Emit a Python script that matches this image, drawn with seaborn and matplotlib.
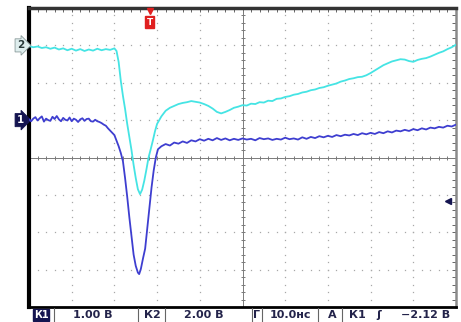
import numpy as np
import pandas as pd
import matplotlib
matplotlib.use("Agg")
import matplotlib.pyplot as plt
from matplotlib.lines import Line2D
import matplotlib.transforms as mtransforms
import seaborn as sns

# ---- data (in screen divisions) ----
ch2_x = [0.0, 0.1, 0.2, 0.3, 0.4, 0.5, 0.6, 0.7, 0.8, 0.9, 1.0, 1.1, 1.2, 1.3, 1.4, 1.5,
         1.6, 1.7, 1.8, 1.9, 2.0, 2.05, 2.1, 2.15, 2.2, 2.25, 2.3, 2.35, 2.4, 2.45, 2.5,
         2.55, 2.6, 2.65, 2.7, 2.75, 2.8, 2.85, 2.9, 2.95, 3.0, 3.1, 3.2, 3.3, 3.4, 3.5,
         3.6, 3.7, 3.8, 3.9, 4.0, 4.1, 4.2, 4.3, 4.4, 4.5, 4.6, 4.7, 4.8, 4.9, 5.0, 5.1,
         5.2, 5.3, 5.4, 5.5, 5.6, 5.7, 5.8, 5.9, 6.0, 6.1, 6.2, 6.3, 6.4, 6.5, 6.6, 6.7,
         6.8, 6.9, 7.0, 7.1, 7.2, 7.3, 7.4, 7.5, 7.6, 7.7, 7.8, 7.9, 8.0, 8.1, 8.2, 8.3,
         8.4, 8.5, 8.6, 8.7, 8.8, 8.9, 9.0, 9.1, 9.2, 9.3, 9.4, 9.5, 9.6, 9.7, 9.8, 9.9, 10.0]
ch2_y = [2.98, 2.95, 2.97, 2.93, 2.95, 2.91, 2.94, 2.89, 2.92, 2.87, 2.91, 2.86, 2.90, 2.85, 2.89, 2.86,
         2.91, 2.87, 2.90, 2.88, 2.92, 2.85, 2.55, 2.05, 1.65, 1.30, 0.90, 0.55, 0.20, -0.20, -0.55,
         -0.85, -0.98, -0.86, -0.62, -0.32, 0.00, 0.22, 0.45, 0.70, 0.90, 1.10, 1.25, 1.33, 1.38, 1.43,
         1.46, 1.48, 1.51, 1.49, 1.47, 1.43, 1.38, 1.31, 1.22, 1.18, 1.22, 1.27, 1.33, 1.36, 1.40, 1.39,
         1.44, 1.43, 1.48, 1.47, 1.52, 1.51, 1.57, 1.58, 1.62, 1.64, 1.68, 1.70, 1.74, 1.76, 1.80, 1.82,
         1.86, 1.88, 1.92, 1.95, 1.98, 2.03, 2.06, 2.10, 2.12, 2.15, 2.16, 2.20, 2.26, 2.33, 2.40, 2.47,
         2.52, 2.57, 2.60, 2.63, 2.62, 2.58, 2.56, 2.61, 2.64, 2.66, 2.70, 2.75, 2.80, 2.84, 2.90, 2.95, 3.02]

ch1_x = [0.0, 0.05, 0.1, 0.15, 0.2, 0.25, 0.3, 0.35, 0.4, 0.45, 0.5, 0.55, 0.6, 0.65, 0.7, 0.75,
         0.8, 0.85, 0.9, 0.95, 1.0, 1.05, 1.1, 1.15, 1.2, 1.25, 1.3, 1.35, 1.4, 1.45, 1.5, 1.55,
         1.6, 1.65, 1.7, 1.75, 1.8, 1.85, 1.9, 1.95, 2.0, 2.05, 2.1, 2.15, 2.2, 2.25, 2.3, 2.35,
         2.4, 2.45, 2.5, 2.55, 2.58, 2.62, 2.67, 2.72, 2.77, 2.82, 2.87, 2.92, 2.97, 3.02, 3.1,
         3.2, 3.3, 3.4, 3.5, 3.6, 3.7, 3.8, 3.9, 4.0, 4.1, 4.2, 4.3, 4.4, 4.5, 4.6, 4.7, 4.8, 4.9,
         5.0, 5.1, 5.2, 5.3, 5.4, 5.5, 5.6, 5.7, 5.8, 5.9, 6.0, 6.1, 6.2, 6.3, 6.4, 6.5, 6.6, 6.7,
         6.8, 6.9, 7.0, 7.1, 7.2, 7.3, 7.4, 7.5, 7.6, 7.7, 7.8, 7.9, 8.0, 8.1, 8.2, 8.3, 8.4, 8.5,
         8.6, 8.7, 8.8, 8.9, 9.0, 9.1, 9.2, 9.3, 9.4, 9.5, 9.6, 9.7, 9.8, 9.9, 10.0]
ch1_y = [1.02, 0.97, 1.04, 1.08, 0.99, 1.05, 1.10, 0.96, 1.04, 1.00, 0.98, 1.09, 1.03, 1.11, 1.02, 0.97,
         1.06, 1.01, 0.99, 1.07, 0.97, 1.04, 1.01, 0.95, 1.02, 1.05, 0.98, 1.03, 1.04, 0.97, 0.96, 1.01,
         0.97, 0.95, 0.92, 0.88, 0.85, 0.78, 0.72, 0.66, 0.60, 0.45, 0.30, 0.12, -0.10, -0.55, -1.05, -1.60,
         -2.10, -2.60, -2.90, -3.08, -3.12, -2.98, -2.70, -2.44, -1.90, -1.35, -0.80, -0.35, 0.00, 0.22, 0.30,
         0.36, 0.32, 0.40, 0.37, 0.43, 0.39, 0.46, 0.43, 0.49, 0.45, 0.50, 0.46, 0.52, 0.47, 0.51, 0.46, 0.50, 0.47,
         0.51, 0.48, 0.50, 0.46, 0.52, 0.49, 0.51, 0.47, 0.50, 0.48, 0.53, 0.49, 0.51, 0.48, 0.54, 0.50, 0.55, 0.52,
         0.57, 0.54, 0.58, 0.55, 0.60, 0.57, 0.61, 0.59, 0.63, 0.60, 0.65, 0.62, 0.66, 0.63, 0.68, 0.65, 0.70, 0.67,
         0.72, 0.70, 0.74, 0.71, 0.76, 0.73, 0.78, 0.75, 0.80, 0.78, 0.82, 0.80, 0.85, 0.83, 0.88]

ch1_ref = 1.0
ch2_ref = 3.0
trig_x = 2.83
trig_level = -1.16

status_labels = ["К1", "1.00 В", "К2", "2.00 В", "Г", "10.0нс", "А", "К1", "ʃ", "−2.12 В"]

# ---- figure ----
sns.set_style("white")
plt.rcParams['font.family'] = ['DejaVu Sans']
W, H = 461, 322
fig = plt.figure(figsize=(W / 100, H / 100), dpi=100)
fig.patch.set_facecolor("white")
ax = fig.add_axes([29 / W, 15 / H, 427 / W, 299 / H])
ax.set_xlim(0, 10)
ax.set_ylim(-4, 4)

# grid dots
dot_col = "#a8a8a8"
for gx in [1, 2, 3, 4, 6, 7, 8, 9]:
    yy = np.arange(-4, 4.001, 0.2)
    ax.plot(np.full_like(yy, gx), yy, ls="none", marker="s", ms=0.9, color=dot_col, mew=0)
for gy in [-3, -2, -1, 1, 2, 3]:
    xx = np.arange(0, 10.001, 0.2)
    ax.plot(xx, np.full_like(xx, gy), ls="none", marker="s", ms=0.9, color=dot_col, mew=0)

# center crosshair with ticks
cc = "#7a7a7a"
ax.axhline(0, color=cc, lw=0.7, zorder=1)
ax.axvline(5, color=cc, lw=0.7, zorder=1)
xx = np.arange(0, 10.001, 0.2)
ax.plot(xx, np.zeros_like(xx), ls="none", marker="|", ms=3.5, mew=0.7, color=cc)
yy = np.arange(-4, 4.001, 0.2)
ax.plot(np.full_like(yy, 5.0), yy, ls="none", marker="_", ms=3.5, mew=0.7, color=cc)

# traces
sns.lineplot(x=ch2_x, y=ch2_y, ax=ax, color="#45e4e4", lw=1.3, estimator=None, sort=False, zorder=3)
sns.lineplot(x=ch1_x, y=ch1_y, ax=ax, color="#3e3ed0", lw=1.3, estimator=None, sort=False, zorder=4)

# edge ticks
ax.set_xticks(np.arange(0, 10.001, 0.2))
ax.set_yticks(np.arange(-4, 4.001, 0.2))
ax.tick_params(direction="in", length=3, width=0.7, color="#666666",
               top=True, right=True, labelbottom=False, labelleft=False)
ax.set_xlabel("")
ax.set_ylabel("")

for side, lw, col in [("left", 3.0, "black"), ("top", 2.5, "#333333"),
                      ("bottom", 2.0, "black"), ("right", 1.8, "#8a8a8a")]:
    ax.spines[side].set_visible(True)
    ax.spines[side].set_linewidth(lw)
    ax.spines[side].set_color(col)

# channel markers
btrans = mtransforms.blended_transform_factory(ax.transAxes, ax.transData)
ax.text(-0.012, ch2_ref, "2", transform=btrans, ha="right", va="center", fontsize=7.5,
        fontweight="bold", color="#2a3a3a", clip_on=False,
        bbox=dict(boxstyle="rarrow,pad=0.15", fc="#dfeeee", ec="#8a9a9a", lw=0.6))
ax.text(-0.012, ch1_ref, "1", transform=btrans, ha="right", va="center", fontsize=7.5,
        fontweight="bold", color="white", clip_on=False,
        bbox=dict(boxstyle="rarrow,pad=0.15", fc="#141450", ec="#141450", lw=0.6))

# trigger marker
ax.plot([trig_x], [3.93], marker="v", ms=5, color="#e02020", clip_on=False, zorder=6)
ax.text(trig_x, 3.62, "T", ha="center", va="center", fontsize=6.5, fontweight="bold",
        color="white", zorder=6,
        bbox=dict(boxstyle="square,pad=0.15", fc="#e02020", ec="#e02020"))
ax.plot([9.82], [trig_level], marker="<", ms=4.5, color="#141450", zorder=6)

# status bar
def fx(px):
    return px / W

yb = (H - 315) / H
txt_col = "#23234a"
kw = dict(fontsize=8, fontweight="bold", ha="center", va="center", color=txt_col)
fig.text(fx(41), yb, status_labels[0], fontsize=7, fontweight="bold", ha="center", va="center",
         color="white", bbox=dict(boxstyle="square,pad=0.12", fc="#141450", ec="#141450"))
fig.text(fx(93), yb, status_labels[1], **kw)
fig.text(fx(152), yb, status_labels[2], **kw)
fig.text(fx(204), yb, status_labels[3], **kw)
fig.text(fx(257), yb, status_labels[4], **kw)
fig.text(fx(290), yb, status_labels[5], **kw)
fig.text(fx(332), yb, status_labels[6], **kw)
fig.text(fx(357), yb, status_labels[7], **kw)
fig.text(fx(379), yb, status_labels[8], **kw)
fig.text(fx(426), yb, status_labels[9], **kw)
for sx in [54, 138, 165, 252, 262, 318, 342]:
    fig.add_artist(Line2D([fx(sx), fx(sx)], [0, 14 / H], color="#666666", lw=0.8))

fig.savefig("out.png", dpi=100, facecolor="white")
